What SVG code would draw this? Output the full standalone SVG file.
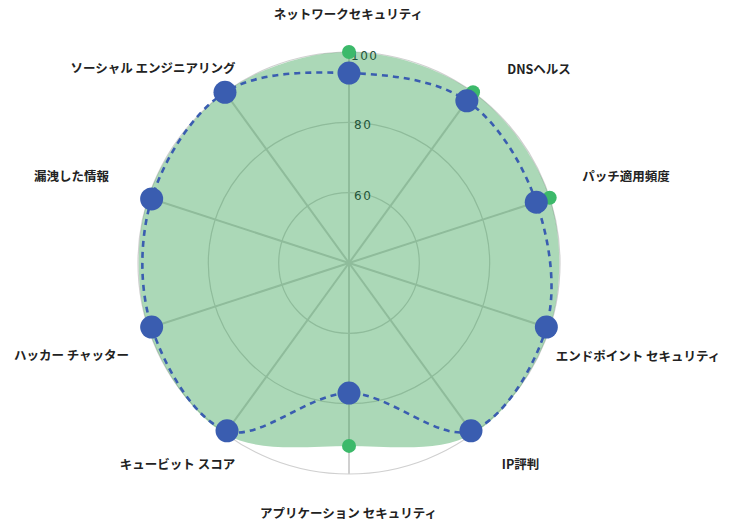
<svg xmlns="http://www.w3.org/2000/svg" width="734" height="525" viewBox="0 0 734 525">
<defs>
<style>
.grid{fill:none;stroke:#d0d0d0;stroke-width:1.2}
.axis{stroke:#d0d0d0;stroke-width:2}
.area{fill:#2e9e4a;fill-opacity:0.4;stroke:none}
.bline{fill:none;stroke:#3a5db0;stroke-width:2.6;stroke-dasharray:6 5}
.gdot{fill:#3cb96a}
.bdot{fill:#3a5db0}
.lbl{font-family:"Noto Sans CJK JP","Noto Sans",sans-serif;font-weight:700;font-size:12.5px;fill:#222;text-anchor:middle}
.tick{font-family:"DejaVu Sans","Liberation Sans",sans-serif;font-size:12px;fill:#25553a;letter-spacing:1.5px}
</style>
</defs>
<rect width="734" height="525" fill="#fff"/>
<g id="grid">
<circle class="grid" cx="349" cy="263" r="70.3"/>
<circle class="grid" cx="349" cy="263" r="140.7"/>
<circle class="grid" cx="349" cy="263" r="211"/>
<line class="axis" x1="349" y1="263" x2="349" y2="52"/>
<line class="axis" x1="349" y1="263" x2="473.03" y2="92.3"/>
<line class="axis" x1="349" y1="263" x2="549.68" y2="197.8"/>
<line class="axis" x1="349" y1="263" x2="549.68" y2="328.2"/>
<line class="axis" x1="349" y1="263" x2="473.03" y2="433.7"/>
<line class="axis" x1="349" y1="263" x2="349" y2="474"/>
<line class="axis" x1="349" y1="263" x2="224.97" y2="433.7"/>
<line class="axis" x1="349" y1="263" x2="148.32" y2="328.2"/>
<line class="axis" x1="349" y1="263" x2="148.32" y2="197.8"/>
<line class="axis" x1="349" y1="263" x2="224.97" y2="92.3"/>
</g>
<g id="series-area">
<path class="area" d="M349,52 C390.34,52 439.58,68 473.03,92.3 C506.48,116.6 536.9,158.48 549.68,197.8 C562.46,237.12 562.46,288.88 549.68,328.2 C536.9,367.52 506.48,414.08 473.03,433.7 C439.58,453.32 390.34,445.9 349,445.9 C307.66,445.9 258.42,453.32 224.97,433.7 C191.52,414.08 161.1,367.52 148.32,328.2 C135.54,288.88 135.54,237.12 148.32,197.8 C161.1,158.48 191.52,116.6 224.97,92.3 C258.42,68 307.66,52 349,52 Z"/>
</g>
<g id="ticks">
<text class="tick" x="351" y="60">100</text>
<text class="tick" x="354" y="129">80</text>
<text class="tick" x="354" y="199.5">60</text>
</g>
<g id="connectors">
<path class="bline" d="M349,73.1 C389.31,74.52 435.64,79.29 466.85,100.8 C498.06,122.31 523.02,164.44 536.27,202.16 C549.52,239.88 557.23,289 546.35,327.12 C535.47,365.24 503.86,419.87 470.97,430.87 C438.08,441.87 389.66,393.1 349,393.1 C308.34,393.1 259.92,441.87 227.03,430.87 C194.14,419.87 164.21,365.79 151.65,327.12 C139.09,288.45 139.43,238.02 151.65,198.88 C163.87,159.74 192.08,113.26 224.97,92.3 C257.86,71.34 308.69,71.68 349,73.1 Z"/>
</g>
<g id="node-network">
<circle class="gdot" cx="349" cy="52" r="7"/>
<circle class="bdot" cx="349" cy="73.1" r="11.5"/>
<text class="lbl" x="348.5" y="18.5">ネットワークセキュリティ</text>
</g>
<g id="node-dns">
<circle class="gdot" cx="473.03" cy="92.3" r="7"/>
<circle class="bdot" cx="466.85" cy="100.8" r="11.5"/>
<text class="lbl" x="539" y="73.8">DNSヘルス</text>
</g>
<g id="node-patch">
<circle class="gdot" cx="549.68" cy="197.8" r="7"/>
<circle class="bdot" cx="536.27" cy="202.16" r="11.5"/>
<text class="lbl" x="626" y="181.2">パッチ適用頻度</text>
</g>
<g id="node-endpoint">
<circle class="gdot" cx="549.68" cy="328.2" r="7"/>
<circle class="bdot" cx="546.35" cy="327.12" r="11.5"/>
<text class="lbl" x="638" y="360.5">エンドポイント セキュリティ</text>
</g>
<g id="node-ip">
<circle class="gdot" cx="473.03" cy="433.7" r="7"/>
<circle class="bdot" cx="470.97" cy="430.87" r="11.5"/>
<text class="lbl" x="520.5" y="468.8">IP評判</text>
</g>
<g id="node-appsec">
<circle class="gdot" cx="349" cy="445.9" r="7"/>
<circle class="bdot" cx="349" cy="393.1" r="11.5"/>
<text class="lbl" x="348.5" y="518">アプリケーション セキュリティ</text>
</g>
<g id="node-qubit">
<circle class="gdot" cx="224.97" cy="433.7" r="7"/>
<circle class="bdot" cx="227.03" cy="430.87" r="11.5"/>
<text class="lbl" x="177.5" y="469">キュービット スコア</text>
</g>
<g id="node-hacker">
<circle class="gdot" cx="148.32" cy="328.2" r="7"/>
<circle class="bdot" cx="151.65" cy="327.12" r="11.5"/>
<text class="lbl" x="71.5" y="359.7">ハッカー チャッター</text>
</g>
<g id="node-leaked">
<circle class="gdot" cx="148.32" cy="197.8" r="7"/>
<circle class="bdot" cx="151.65" cy="198.88" r="11.5"/>
<text class="lbl" x="71.5" y="181.2">漏洩した情報</text>
</g>
<g id="node-social">
<circle class="gdot" cx="224.97" cy="92.3" r="7"/>
<circle class="bdot" cx="224.97" cy="92.3" r="11.5"/>
<text class="lbl" x="153" y="72.5">ソーシャル エンジニアリング</text>
</g>
</svg>
